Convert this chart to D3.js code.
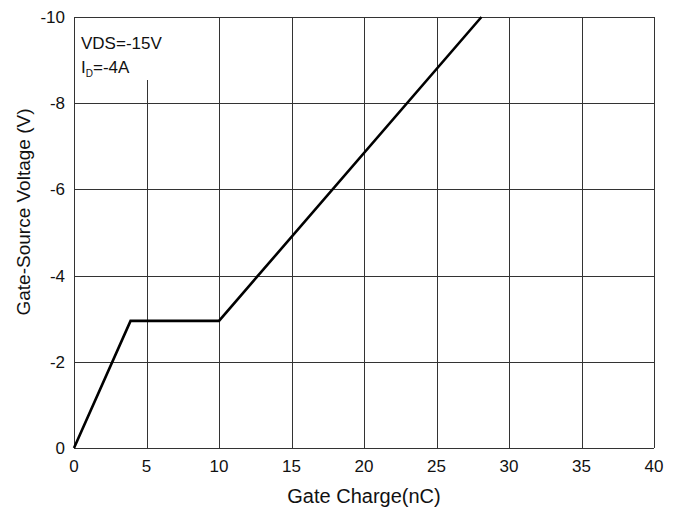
<!DOCTYPE html>
<html>
<head>
<meta charset="utf-8">
<script src="https://cdn.jsdelivr.net/npm/d3@7"></script>
<style>
  body { margin: 0; background: #fff; }
  svg { display: block; font-family: "Liberation Sans", Arial, sans-serif; }
</style>
</head>
<body>
<svg id="chart"></svg>
<script>
// gate charge curve
var qg = [0, 3.9, 10, 28.1];
var vgs = [0, -2.95, -2.95, -10];
var xTicks = [0, 5, 10, 15, 20, 25, 30, 35, 40];
var yTicks = [0, -2, -4, -6, -8, -10];

var width = 683, height = 509;
var margin = { top: 17, right: 29, bottom: 61, left: 74 };

var svg = d3.select("#chart")
    .attr("width", width)
    .attr("height", height);

var x = d3.scaleLinear().domain([0, 40]).range([margin.left, width - margin.right]);
var y = d3.scaleLinear().domain([0, -10]).range([height - margin.bottom, margin.top]);

// grid
svg.append("g")
    .selectAll("line")
    .data(xTicks)
    .join("line")
    .attr("x1", d => Math.round(x(d)) + 0.5)
    .attr("x2", d => Math.round(x(d)) + 0.5)
    .attr("y1", y(-10))
    .attr("y2", y(0))
    .attr("stroke", "#333")
    .attr("stroke-width", 1);

svg.append("g")
    .selectAll("line")
    .data(yTicks)
    .join("line")
    .attr("x1", x(0))
    .attr("x2", x(40))
    .attr("y1", d => Math.round(y(d)) + 0.5)
    .attr("y2", d => Math.round(y(d)) + 0.5)
    .attr("stroke", "#333")
    .attr("stroke-width", 1);

// condition box
svg.append("rect")
    .attr("x", x(0) + 1)
    .attr("y", y(-10) + 1)
    .attr("width", 76)
    .attr("height", 62)
    .attr("fill", "#fff");

var note = svg.append("text")
    .attr("x", x(0) + 7)
    .attr("y", 49)
    .attr("font-size", 17)
    .attr("fill", "#111");
note.text("VDS=-15V");

var note2 = svg.append("text")
    .attr("x", x(0) + 7)
    .attr("y", 73)
    .attr("font-size", 17)
    .attr("fill", "#111");
note2.append("tspan").text("I");
note2.append("tspan").attr("font-size", 10).attr("dy", 4).text("D");
note2.append("tspan").attr("dy", -4).text("=-4A");

// curve
svg.append("path")
    .datum(d3.zip(qg, vgs))
    .attr("fill", "none")
    .attr("stroke", "#000")
    .attr("stroke-width", 2.6)
    .attr("stroke-linejoin", "miter")
    .attr("d", d3.line().x(d => x(d[0])).y(d => y(d[1])));

// tick labels
svg.append("g")
    .selectAll("text")
    .data(xTicks)
    .join("text")
    .attr("x", d => x(d))
    .attr("y", y(0) + 24)
    .attr("text-anchor", "middle")
    .attr("font-size", 17)
    .attr("fill", "#111")
    .text(d => d);

svg.append("g")
    .selectAll("text")
    .data(yTicks)
    .join("text")
    .attr("x", x(0) - 9)
    .attr("y", d => y(d) + 6)
    .attr("text-anchor", "end")
    .attr("font-size", 17)
    .attr("fill", "#111")
    .text(d => d);

// axis titles
svg.append("text")
    .attr("x", (x(0) + x(40)) / 2)
    .attr("y", 503)
    .attr("text-anchor", "middle")
    .attr("font-size", 20)
    .attr("fill", "#111")
    .text("Gate Charge(nC)");

svg.append("text")
    .attr("transform", "translate(30, 212) rotate(-90)")
    .attr("text-anchor", "middle")
    .attr("font-size", 19)
    .attr("fill", "#111")
    .text("Gate-Source Voltage (V)");
</script>
</body>
</html>
